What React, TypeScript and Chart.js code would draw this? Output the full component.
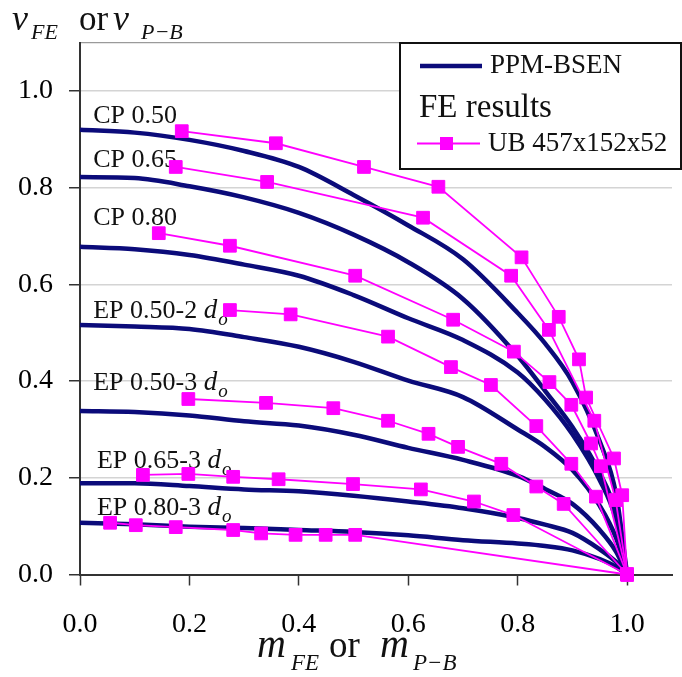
import React, { useEffect, useRef } from 'react';
import { Chart, registerables } from 'chart.js';

Chart.register(...registerables);

// ---------- data ----------
const xTickValues = [0, 0.2, 0.4, 0.6, 0.8, 1.0];
const yTickValues = [0, 0.2, 0.4, 0.6, 0.8, 1.0, 1.1];

// PPM-BSEN curves (m, v)
const ppmM = [0, 0.1, 0.2, 0.3, 0.4, 0.5, 0.6, 0.7, 0.8, 0.85, 0.9, 0.95, 0.98, 1.0];
const ppmCP050 = [0.920, 0.914, 0.899, 0.876, 0.843, 0.785, 0.722, 0.652, 0.541, 0.478, 0.398, 0.275, 0.165, 0];
const ppmCP065 = [0.822, 0.820, 0.803, 0.780, 0.748, 0.703, 0.646, 0.570, 0.452, 0.380, 0.305, 0.210, 0.125, 0];
const ppmCP080 = [0.678, 0.673, 0.661, 0.641, 0.618, 0.578, 0.530, 0.485, 0.418, 0.362, 0.290, 0.195, 0.112, 0];
const ppmEP050_2 = [0.516, 0.513, 0.508, 0.491, 0.471, 0.440, 0.401, 0.367, 0.300, 0.264, 0.216, 0.142, 0.075, 0];
const ppmEP050_3 = [0.338, 0.336, 0.329, 0.317, 0.308, 0.289, 0.262, 0.237, 0.204, 0.177, 0.146, 0.092, 0.047, 0];
const ppmEP065_3 = [0.189, 0.189, 0.183, 0.176, 0.172, 0.163, 0.151, 0.137, 0.117, 0.103, 0.086, 0.052, 0.026, 0];
const ppmEP080_3 = [0.107, 0.104, 0.099, 0.096, 0.092, 0.088, 0.081, 0.071, 0.064, 0.059, 0.050, 0.032, 0.016, 0];

// FE results UB 457x152x52
const feCP050_m = [0.186, 0.358, 0.519, 0.655, 0.807, 0.875, 0.912, 0.925, 0.976, 0.991, 1.0];
const feCP050_v = [0.917, 0.892, 0.843, 0.802, 0.656, 0.533, 0.445, 0.366, 0.240, 0.164, 0.0];
const feCP065_m = [0.175, 0.342, 0.627, 0.788, 0.857, 0.940, 0.979, 1.0];
const feCP065_v = [0.843, 0.812, 0.738, 0.618, 0.506, 0.318, 0.154, 0.0];
const feCP080_m = [0.144, 0.274, 0.503, 0.682, 0.793, 0.858, 0.898, 0.934, 0.952, 1.0];
const feCP080_v = [0.706, 0.680, 0.618, 0.527, 0.461, 0.398, 0.351, 0.271, 0.224, 0.0];
const feEP050_2_m = [0.274, 0.385, 0.563, 0.678, 0.751, 0.834, 0.898, 0.943, 1.0];
const feEP050_2_v = [0.547, 0.538, 0.492, 0.429, 0.392, 0.307, 0.229, 0.161, 0.0];
const feEP050_3_m = [0.198, 0.340, 0.463, 0.563, 0.637, 0.691, 0.770, 0.834, 0.884, 1.0];
const feEP050_3_v = [0.363, 0.355, 0.344, 0.318, 0.291, 0.264, 0.229, 0.182, 0.146, 0.0];
const feEP065_3_m = [0.115, 0.198, 0.280, 0.363, 0.499, 0.623, 0.720, 0.792, 1.0];
const feEP065_3_v = [0.206, 0.208, 0.202, 0.197, 0.187, 0.176, 0.151, 0.123, 0.0];
const feEP080_3_m = [0.055, 0.102, 0.175, 0.280, 0.331, 0.394, 0.449, 0.503, 1.0];
const feEP080_3_v = [0.107, 0.102, 0.098, 0.092, 0.085, 0.082, 0.082, 0.082, 0.0];

// curve labels
const curveLabels = ['CP 0.50', 'CP 0.65', 'CP 0.80', 'EP 0.50-2', 'EP 0.50-3', 'EP 0.65-3', 'EP 0.80-3'];
const curveLabelHasDo = [false, false, false, true, true, true, true];

const legendLineLabel = 'PPM-BSEN';
const legendHeader = 'FE results';
const legendMarkerLabel = 'UB 457x152x52';

// ---------- layout / style (not data) ----------
const labelAnchors: [number, number][] = [
  [0.024, 0.933], [0.024, 0.843], [0.024, 0.723], [0.024, 0.530],
  [0.024, 0.382], [0.031, 0.220], [0.031, 0.123],
];

const SERIF = '"Liberation Serif", "Times New Roman", serif';
const NAVY = '#0b0b7a';
const MAGENTA = '#ff00ff';

const zip = (xs: number[], ys: number[]) => xs.map((x, i) => ({ x, y: ys[i] }));

const ppmSets = [ppmCP050, ppmCP065, ppmCP080, ppmEP050_2, ppmEP050_3, ppmEP065_3, ppmEP080_3];
const feSets: [number[], number[]][] = [
  [feCP050_m, feCP050_v], [feCP065_m, feCP065_v], [feCP080_m, feCP080_v],
  [feEP050_2_m, feEP050_2_v], [feEP050_3_m, feEP050_3_v],
  [feEP065_3_m, feEP065_3_v], [feEP080_3_m, feEP080_3_v],
];

type Run = { t: string; x: number; y: number; font: string };
function drawRuns(ctx: CanvasRenderingContext2D, runs: Run[]) {
  for (const r of runs) {
    ctx.font = r.font;
    ctx.fillText(r.t, r.x, r.y);
  }
}

const textPlugin = {
  id: 'customTexts',
  beforeDatasetsDraw(chart: any) {
    const ctx: CanvasRenderingContext2D = chart.ctx;
    const xs = chart.scales.x;
    const ys = chart.scales.y;
    ctx.save();
    ctx.fillStyle = '#111';
    ctx.textBaseline = 'alphabetic';
    ctx.textAlign = 'left';
    curveLabels.forEach((lab, i) => {
      const px = xs.getPixelForValue(labelAnchors[i][0]);
      const py = ys.getPixelForValue(labelAnchors[i][1]);
      ctx.font = `26px ${SERIF}`;
      const text = lab + ' ';
      ctx.fillText(text, px, py);
      if (curveLabelHasDo[i]) {
        const w = ctx.measureText(text).width;
        ctx.font = `italic 27px ${SERIF}`;
        ctx.fillText('d', px + w, py);
        const wd = ctx.measureText('d').width;
        ctx.font = `italic 19px ${SERIF}`;
        ctx.fillText('o', px + w + wd + 1, py + 7);
      }
    });
    ctx.restore();
  },
  afterDraw(chart: any) {
    const ctx: CanvasRenderingContext2D = chart.ctx;
    ctx.save();
    ctx.fillStyle = '#111';
    ctx.textBaseline = 'alphabetic';
    ctx.textAlign = 'left';
    // y axis title
    drawRuns(ctx, [
      { t: 'v', x: 12, y: 30, font: `italic 36px ${SERIF}` },
      { t: 'FE', x: 31, y: 39, font: `italic 22px ${SERIF}` },
      { t: 'or', x: 79, y: 30, font: `35px ${SERIF}` },
      { t: 'v', x: 113, y: 30, font: `italic 36px ${SERIF}` },
      { t: 'P\u2212B', x: 141, y: 39, font: `italic 22px ${SERIF}` },
    ]);
    // x axis title
    drawRuns(ctx, [
      { t: 'm', x: 257, y: 657, font: `italic 40px ${SERIF}` },
      { t: 'FE', x: 291, y: 670, font: `italic 23px ${SERIF}` },
      { t: 'or', x: 329, y: 657, font: `37px ${SERIF}` },
      { t: 'm', x: 380, y: 657, font: `italic 40px ${SERIF}` },
      { t: 'P\u2212B', x: 413, y: 670, font: `italic 23px ${SERIF}` },
    ]);
    // legend box
    const bx = 400, by = 43, bw = 281, bh = 126;
    ctx.fillStyle = '#fff';
    ctx.fillRect(bx, by, bw, bh);
    ctx.strokeStyle = '#111';
    ctx.lineWidth = 2;
    ctx.strokeRect(bx, by, bw, bh);
    // navy line sample
    ctx.strokeStyle = NAVY;
    ctx.lineWidth = 4.5;
    ctx.beginPath();
    ctx.moveTo(420, 66);
    ctx.lineTo(482, 66);
    ctx.stroke();
    ctx.fillStyle = '#111';
    ctx.font = `27px ${SERIF}`;
    ctx.fillText(legendLineLabel, 490, 73);
    ctx.font = `33px ${SERIF}`;
    ctx.fillText(legendHeader, 419, 117);
    // magenta line + marker sample
    ctx.strokeStyle = MAGENTA;
    ctx.lineWidth = 1.8;
    ctx.beginPath();
    ctx.moveTo(417, 143.5);
    ctx.lineTo(480, 143.5);
    ctx.stroke();
    ctx.fillStyle = MAGENTA;
    ctx.fillRect(440, 137, 13, 13);
    ctx.fillStyle = '#111';
    ctx.font = `27px ${SERIF}`;
    ctx.fillText(legendMarkerLabel, 488, 151);
    ctx.restore();
  },
};

export default function App() {
  const ref = useRef<HTMLCanvasElement>(null);
  useEffect(() => {
    if (!ref.current) return;
    const datasets: any[] = [];
    feSets.forEach(([m, v], i) => {
      datasets.push({
        label: legendMarkerLabel + ' ' + curveLabels[i],
        data: zip(m, v),
        borderColor: MAGENTA,
        backgroundColor: MAGENTA,
        borderWidth: 1.8,
        pointStyle: 'rect',
        pointRadius: 9,
        pointBorderWidth: 1,
        pointBackgroundColor: MAGENTA,
        pointBorderColor: MAGENTA,
        tension: 0,
        clip: false,
        order: 0,
      });
    });
    ppmSets.forEach((v, i) => {
      datasets.push({
        label: legendLineLabel + ' ' + curveLabels[i],
        data: zip(ppmM, v),
        borderColor: NAVY,
        borderWidth: 4.5,
        pointRadius: 0,
        cubicInterpolationMode: 'monotone',
        clip: false,
        order: 1,
      });
    });

    const chart = new Chart(ref.current, {
      type: 'line',
      data: { datasets },
      plugins: [textPlugin],
      options: {
        responsive: false,
        animation: false,
        devicePixelRatio: 1,
        layout: { padding: { top: 42.7, left: 0, right: 0, bottom: 0 } },
        plugins: { legend: { display: false }, tooltip: { enabled: false } },
        scales: {
          x: {
            type: 'linear',
            min: 0,
            max: 1.082,
            afterBuildTicks: (s: any) => { s.ticks = xTickValues.map((v) => ({ value: v })); },
            afterFit: (s: any) => { s.height = 102.5; },
            grid: { drawOnChartArea: false, drawTicks: true, tickLength: 11, tickColor: '#333', tickWidth: 1.5 },
            border: { color: '#333', width: 2 },
            ticks: {
              padding: 22,
              color: '#000',
              font: { family: SERIF, size: 28 },
              callback: (v: any) => Number(v).toFixed(1),
            },
          },
          y: {
            type: 'linear',
            min: 0,
            max: 1.1,
            afterBuildTicks: (s: any) => { s.ticks = yTickValues.map((v) => ({ value: v })); },
            afterFit: (s: any) => { s.width = 80; },
            grid: {
              drawOnChartArea: true,
              tickLength: 11,
              tickWidth: 1.5,
              lineWidth: (c: any) => (c.tick && c.tick.value === 1.1 ? 1.2 : 1.5),
              color: (c: any) => {
                const v = c.tick ? c.tick.value : -1;
                if (v === 1.1) return '#9a9a9a';
                if (v === 0) return 'rgba(0,0,0,0)';
                return '#d4d4d4';
              },
              tickColor: (c: any) => (c.tick && c.tick.value === 1.1 ? 'rgba(0,0,0,0)' : '#333'),
            },
            border: { color: '#333', width: 2 },
            ticks: {
              padding: 16,
              color: '#000',
              font: { family: SERIF, size: 28 },
              callback: (v: any) => (Number(v) === 1.1 ? '' : Number(v).toFixed(1)),
            },
          },
        },
      },
    } as any);
    return () => chart.destroy();
  }, []);

  return (
    <div style={{ position: 'fixed', left: 0, top: 0, width: 682, height: 677, background: '#fff' }}>
      <canvas ref={ref} width={682} height={677} style={{ width: 682, height: 677, display: 'block' }} />
    </div>
  );
}
